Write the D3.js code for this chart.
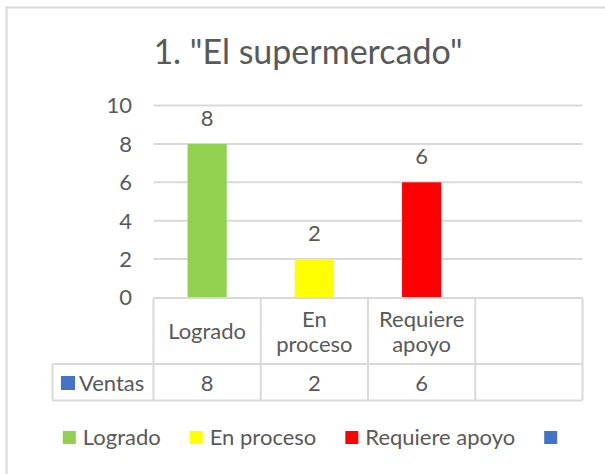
<!DOCTYPE html>
<html>
<head>
<meta charset="utf-8">
<script src="https://cdn.jsdelivr.net/npm/d3@7"></script>
<style>
  body { margin: 0; background: #fff; }
  text { font-family: Lato, "Liberation Sans", sans-serif; fill: #595959; }
</style>
</head>
<body>
<svg id="chart" width="605" height="474"></svg>
<script>
// chart data
const title = '1. "El supermercado"';
const categories = ['Logrado', 'En proceso', 'Requiere apoyo', ''];
const headerLines = [['Logrado'], ['En', 'proceso'], ['Requiere', 'apoyo'], []];
const values = [8, 2, 6, null];
const barColors = ['#92D050', '#FFFF00', '#FF0000', '#4472C4'];
const seriesName = 'Ventas';
const yTicks = [0, 2, 4, 6, 8, 10];

const fontSize = '22px';
const svg = d3.select('#chart');

// outer frame of the chart area
svg.append('rect')
    .attr('x', 6.5).attr('y', 7.5)
    .attr('width', 640).attr('height', 500)
    .attr('fill', 'none')
    .attr('stroke', '#D9D9D9')
    .attr('stroke-width', 2);

// title
svg.append('text')
    .attr('x', 308).attr('y', 64)
    .attr('text-anchor', 'middle')
    .style('font-size', '34px')
    .text(title);

// scales
const x = d3.scaleBand()
    .domain(categories.map((d, i) => i))
    .range([153.5, 582.5]);

const y = d3.scaleLinear()
    .domain([0, 10])
    .range([297.5, 105.5]);

// gridlines
svg.append('g')
    .selectAll('line')
    .data(yTicks.filter(t => t > 0))
    .join('line')
    .attr('x1', x.range()[0]).attr('x2', x.range()[1])
    .attr('y1', d => y(d)).attr('y2', d => y(d))
    .attr('stroke', '#D9D9D9')
    .attr('stroke-width', 2);

// y axis labels
svg.append('g')
    .selectAll('text')
    .data(yTicks)
    .join('text')
    .attr('x', 132)
    .attr('y', d => y(d))
    .attr('dy', '0.36em')
    .attr('text-anchor', 'end')
    .style('font-size', fontSize)
    .text(d => d);

// bars
const barW = x.bandwidth() * 0.365;
const barData = values.map((v, i) => ({ i, v })).filter(d => d.v !== null);

svg.append('g')
    .selectAll('rect')
    .data(barData)
    .join('rect')
    .attr('x', d => x(d.i) + (x.bandwidth() - barW) / 2)
    .attr('y', d => y(d.v))
    .attr('width', barW)
    .attr('height', d => y(0) - y(d.v))
    .attr('fill', d => barColors[d.i]);

// value labels above bars
svg.append('g')
    .selectAll('text')
    .data(barData)
    .join('text')
    .attr('x', d => x(d.i) + x.bandwidth() / 2)
    .attr('y', d => y(d.v) - 18)
    .attr('text-anchor', 'middle')
    .style('font-size', fontSize)
    .text(d => d.v);

// data table
const tableTop = y(0) + 0.5;
const rowMid = 364;
const tableBottom = 400.5;
const tableLeft = 52.5;
const grid = svg.append('g')
    .attr('stroke', '#D9D9D9')
    .attr('stroke-width', 2);

// horizontal lines
grid.append('line')
    .attr('x1', x.range()[0]).attr('x2', x.range()[1])
    .attr('y1', tableTop).attr('y2', tableTop);
grid.append('line')
    .attr('x1', tableLeft).attr('x2', x.range()[1])
    .attr('y1', rowMid).attr('y2', rowMid);
grid.append('line')
    .attr('x1', tableLeft).attr('x2', x.range()[1])
    .attr('y1', tableBottom).attr('y2', tableBottom);
// vertical lines
grid.append('line')
    .attr('x1', tableLeft).attr('x2', tableLeft)
    .attr('y1', rowMid).attr('y2', tableBottom);
grid.selectAll('line.v')
    .data(categories.map((d, i) => i).concat([categories.length]))
    .join('line')
    .attr('class', 'v')
    .attr('x1', i => i < categories.length ? x(i) : x.range()[1])
    .attr('x2', i => i < categories.length ? x(i) : x.range()[1])
    .attr('y1', tableTop).attr('y2', tableBottom);

// header text
headerLines.forEach((lines, i) => {
    const cx = x(i) + x.bandwidth() / 2;
    const lh = 25;
    const base = 339 - (lines.length - 1) * lh / 2;
    lines.forEach((ln, j) => {
        svg.append('text')
            .attr('x', cx)
            .attr('y', base + j * lh)
            .attr('text-anchor', 'middle')
            .style('font-size', fontSize)
            .text(ln);
    });
});

// series row
svg.append('rect')
    .attr('x', 61).attr('y', 376)
    .attr('width', 14).attr('height', 14)
    .attr('fill', '#4472C4');
svg.append('text')
    .attr('x', 79).attr('y', 391)
    .style('font-size', fontSize)
    .text(seriesName);

svg.append('g')
    .selectAll('text')
    .data(values.map((v, i) => ({ i, v })).filter(d => d.v !== null))
    .join('text')
    .attr('x', d => x(d.i) + x.bandwidth() / 2)
    .attr('y', 391)
    .attr('text-anchor', 'middle')
    .style('font-size', fontSize)
    .text(d => d.v);

// legend
const legend = svg.append('g');
let lx = 0;
const gap = 29;
categories.forEach((c, i) => {
    const item = legend.append('g').attr('transform', `translate(${lx},0)`);
    item.append('rect')
        .attr('x', 0).attr('y', -14)
        .attr('width', 13).attr('height', 13)
        .attr('fill', barColors[i]);
    const t = item.append('text')
        .attr('x', 20).attr('y', 0)
        .style('font-size', fontSize)
        .text(c);
    const w = c ? t.node().getComputedTextLength() : -7;
    lx += 20 + w + gap;
});
const legendW = lx - gap;
legend.attr('transform', `translate(${310 - legendW / 2},445)`);
</script>
</body>
</html>
